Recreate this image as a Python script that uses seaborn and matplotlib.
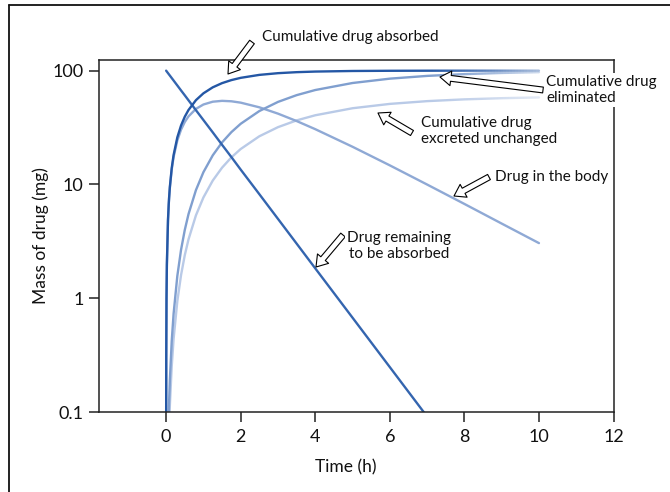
import matplotlib
matplotlib.use("Agg")
import matplotlib.pyplot as plt
from matplotlib.lines import Line2D
from matplotlib.patches import Rectangle
import seaborn as sns
import pandas as pd

# Time points (h)
time_h = [0, 0.001, 0.003, 0.01, 0.02, 0.05, 0.07, 0.08, 0.1, 0.15, 0.2, 0.3,
          0.4, 0.5, 0.6, 0.8, 1.0, 1.25, 1.5, 1.75, 2.0, 2.5, 3, 3.5, 4, 5,
          6, 7, 8, 9, 10]

# Mass of drug (mg) for each quantity
remaining = [100, 99.9, 99.7, 99.0, 98.0, 95.1, 93.2, 92.3, 90.5, 86.1, 81.9,
             74.1, 67.0, 60.7, 54.9, 44.9, 36.8, 28.7, 22.3, 17.4, 13.5, 8.21,
             4.98, 3.02, 1.83, 0.674, 0.248, 0.0912, 0.0335, 0.0123, 0.00454]
absorbed = [0, 0.0999, 0.2996, 0.995, 1.98, 4.88, 6.76, 7.69, 9.52, 13.93,
            18.13, 25.92, 32.97, 39.35, 45.12, 55.07, 63.21, 71.35, 77.69,
            82.62, 86.47, 91.79, 95.02, 96.98, 98.17, 99.33, 99.75, 99.91,
            99.97, 99.99, 100.0]
in_body = [0, 0.0999, 0.2994, 0.993, 1.972, 4.83, 6.67, 7.57, 9.33, 13.51,
           17.40, 24.35, 30.30, 35.37, 39.64, 46.14, 50.41, 53.34, 54.28,
           53.80, 52.33, 47.63, 41.90, 36.07, 30.60, 21.43, 14.71, 9.98,
           6.74, 4.53, 3.05]
eliminated = [0, 0.00002, 0.0002, 0.002, 0.0079, 0.0488, 0.0949, 0.1233,
              0.191, 0.420, 0.729, 1.568, 2.664, 3.980, 5.483, 8.930, 12.81,
              18.01, 23.41, 28.82, 34.13, 44.16, 53.12, 60.91, 67.57, 77.89,
              85.05, 89.93, 93.23, 95.45, 96.95]
excreted = [0, 0.00001, 0.0001, 0.0012, 0.0048, 0.0293, 0.0569, 0.074,
            0.1146, 0.252, 0.438, 0.941, 1.598, 2.388, 3.290, 5.358, 7.683,
            10.81, 14.04, 17.29, 20.48, 26.50, 31.87, 36.55, 40.54, 46.74,
            51.03, 53.96, 55.94, 57.27, 58.17]

x_ticks = [0, 2, 4, 6, 8, 10, 12]
y_ticks = [0.1, 1, 10, 100]
y_tick_labels = ["0.1", "1", "10", "100"]

df = pd.DataFrame({
    "time": time_h,
    "remaining": remaining,
    "absorbed": absorbed,
    "in_body": in_body,
    "eliminated": eliminated,
    "excreted": excreted,
})

sns.set_theme(style="ticks")
plt.rcParams["font.family"] = ["Lato", "DejaVu Sans"]
plt.rcParams["axes.linewidth"] = 1.1

fig = plt.figure(figsize=(6.7, 4.92), dpi=100)
ax = fig.add_axes([0.1478, 0.1626, 0.9157 - 0.1478, 0.878 - 0.1626])

series_style = [
    ("excreted", "#b9cae7"),
    ("in_body", "#8fa9d5"),
    ("eliminated", "#809fcf"),
    ("remaining", "#3465af"),
    ("absorbed", "#2457a5"),
]
for col, color in series_style:
    sns.lineplot(data=df, x="time", y=col, color=color, linewidth=1.7,
                 ax=ax, legend=False)

ax.set_yscale("log")
ax.set_xlim(-1.8, 12)
ax.set_ylim(0.1, 124)

# Soft fade toward the plateau ends of the cumulative curves
n_slices = 40
x0, x1 = 7.0, 10.15
for i in range(n_slices):
    a = x0 + (x1 - x0) * i / n_slices
    b = x0 + (x1 - x0) * (i + 1) / n_slices
    ax.add_patch(Rectangle((a, 40), b - a, 84, facecolor="white",
                           edgecolor="none",
                           alpha=0.65 * ((i + 0.5) / n_slices) ** 1.3,
                           zorder=2.2))

ax.set_xticks(x_ticks)
ax.set_xticklabels([str(v) for v in x_ticks])
ax.set_yticks(y_ticks)
ax.set_yticklabels(y_tick_labels)
ax.minorticks_off()
ax.tick_params(axis="both", which="major", direction="out", length=7,
               width=1.1, color="#222222", labelsize=13, labelcolor="#111111")
ax.tick_params(axis="x", pad=5)
ax.tick_params(axis="y", pad=4)
for side in ["top", "right", "left", "bottom"]:
    ax.spines[side].set_visible(True)
    ax.spines[side].set_color("#222222")

ax.set_xlabel("Time (h)", fontsize=12.5, color="#111111", labelpad=7)
ax.xaxis.set_label_coords(0.479, -0.135)
ax.set_ylabel("Mass of drug (mg)", fontsize=12.5, color="#111111")
ax.yaxis.set_label_coords(-0.097, 0.5)


def px(x, y):
    """Image pixel position (origin top-left) to figure pixels."""
    return (x, 492 - y)


arrow = dict(arrowstyle="simple,head_width=1.0,head_length=0.75,tail_width=0.4",
             fc="white", ec="black", lw=0.8, shrinkA=0, shrinkB=0)

# (label, text anchor, arrow tail, arrow tip, alignment)
labels = [
    ("Cumulative drug absorbed", (262, 37), (252, 42), (228, 74), "left"),
    ("Cumulative drug\neliminated", (546, 90), (543, 90), (440, 77), "left"),
    ("Cumulative drug\nexcreted unchanged", (421, 131), (412, 133), (378, 113), "left"),
    ("Drug in the body", (495, 177), (489, 177), (454, 196), "left"),
    ("Drug remaining\nto be absorbed", (399, 246), (343, 235), (316, 267), "center"),
]
for text, anchor, tail, tip, ha in labels:
    ax.annotate("", xy=px(*tip), xytext=px(*tail), xycoords="figure pixels",
                textcoords="figure pixels", fontsize=10.5,
                annotation_clip=False, zorder=10, arrowprops=arrow)
    ax.annotate(text, xy=px(*anchor), xycoords="figure pixels",
                ha=ha, va="center", fontsize=11, color="#111111",
                linespacing=1.2, annotation_clip=False, zorder=11,
                bbox=dict(fc="white", ec="none", pad=1.5))

# Outer frame around the figure
fig.add_artist(Line2D([9 / 670, 9 / 670], [0, 1 - 5 / 492],
                      transform=fig.transFigure, color="#111111", lw=1.3))
fig.add_artist(Line2D([9 / 670, 1], [1 - 5 / 492, 1 - 5 / 492],
                      transform=fig.transFigure, color="#111111", lw=1.3))

fig.savefig("out.png", dpi=100)
